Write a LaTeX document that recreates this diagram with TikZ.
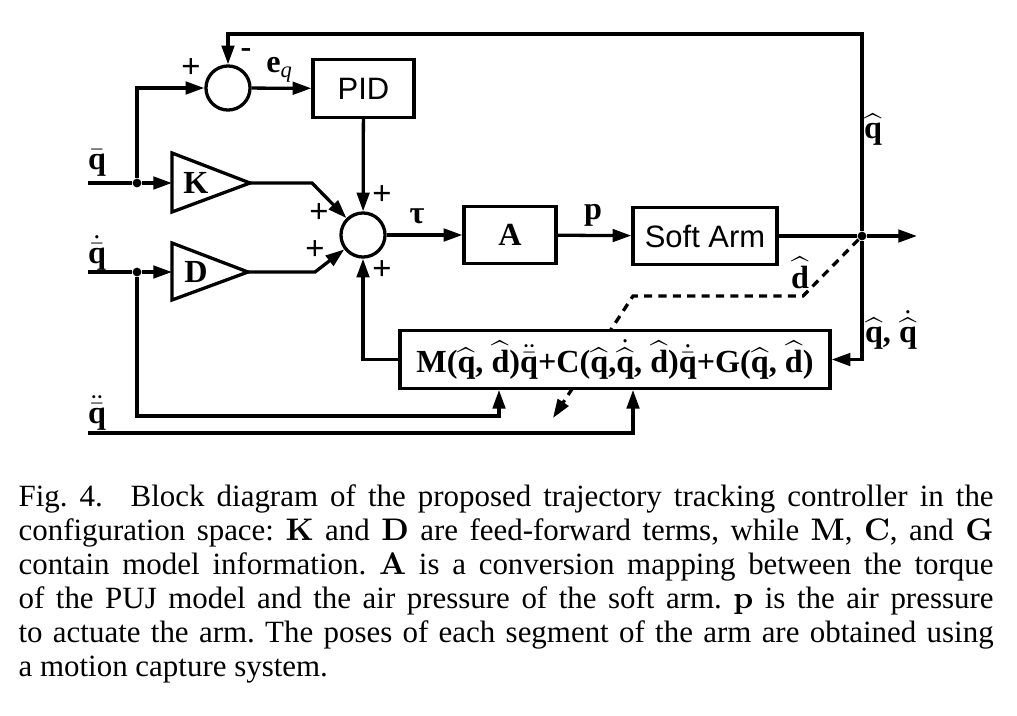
\documentclass[tikz,border=0pt]{standalone}
\usepackage{amsmath}
\usepackage[no-math]{fontspec}
\setmainfont{Liberation Serif}
\newfontfamily\armfont{Liberation Sans}
\usetikzlibrary{arrows.meta}
\newcommand{\vecq}{\mbox{q}}
\newcommand{\vecd}{\mbox{d}}

\begin{document}
\frenchspacing
\begin{tikzpicture}[
    x=0.32pt, y=-0.32pt,
    lbl/.style={draw=none, font=\fontsize{10.3}{11}\selectfont\bfseries, inner sep=0pt},
    sgn/.style={draw=none, font=\fontsize{10.5}{11}\selectfont\armfont, inner sep=0pt},
    blk/.style={draw, fill=white, line width=1.05pt, minimum height=18.4pt, inner sep=0pt,
                font=\fontsize{10.3}{11}\selectfont\bfseries},
    sansblk/.style={blk, font=\fontsize{9.9}{11}\selectfont\armfont},
    sumnode/.style={circle, draw, line width=1.05pt, minimum size=14.1pt, inner sep=0pt},
    dotnode/.style={circle, fill, inner sep=0pt, minimum size=2.8pt},
    wire/.style={line width=1.05pt},
    sarrow/.style={-{Triangle[length=6pt, width=4pt]}, line width=1.05pt},
    darrow/.style={sarrow, dash pattern=on 2.6pt off 2pt}
]
\useasboundingbox (0,0) rectangle (1017,715);
% --- Summing junctions and blocks ---
\node[sumnode] (sumA) at (228,88) {};
\node[sansblk, minimum width=32.3pt] (pid) at (363.5,88.5) {PID};
\node[sumnode] (sumB) at (363,235) {};
\node[blk, minimum width=29.4pt] (ablk) at (510,235) {A};
\node[sansblk, minimum width=46.1pt] (arm) at (705,236) {Soft Arm};
\node[dotnode] (split) at (862,236) {};
\coordinate (outend) at (917,236);
% --- Gains K and D ---
\foreach \g/\y/\yt/\yb/\xt in {K/183/153/212/250, D/272/243/300/248} {
    \draw[wire] (172,\yt) -- (\xt,\y) -- (172,\yb) -- cycle;
    \node[lbl] (gain\g) at (196,\y) {\g};
    \coordinate (in\g) at (172,\y);
    \coordinate (out\g) at (\xt,\y);
}
% --- Input points and bends ---
\node[dotnode] (dotK) at (137,183) {};
\node[dotnode] (dotD) at (137,272) {};
\coordinate (qbarin) at (88,183);
\coordinate (qdotin) at (88,272);
\coordinate (qddotin) at (88,433);
\coordinate (kbend) at (312,183);
\coordinate (dbend) at (315,272);
\coordinate (topR) at (862,34);
\coordinate (mlowA) at (499,416);
\coordinate (mlowB) at (633,433);
% --- Dashed estimate, runs under the model block ---
\coordinate (estA) at (803,296);
\coordinate (estB) at (633,296);
\coordinate (estC) at (553,418);
\draw[darrow] (split) -- (estA) -- (estB) -- (estC);
% --- Model block ---
\node[blk, minimum width=137.6pt] (mbox) at (615,359.5)
    {M($\widehat{\vecq}$, $\widehat{\vecd}$)$\ddot{\bar{\vecq}}$+C($\widehat{\vecq}$,$\dot{\widehat{\vecq}}$, $\widehat{\vecd}$)$\dot{\bar{\vecq}}$+G($\widehat{\vecq}$, $\widehat{\vecd}$)};
% --- Connections ---
\draw[sarrow] (split) -- (topR) -| (sumA);
\draw[wire] (qbarin) -- (dotK);
\draw[sarrow] (dotK) -- (inK);
\draw[sarrow] (dotK) |- (sumA);
\draw[sarrow] (sumA) -- (pid);
\draw[sarrow] (pid) -- (sumB);
\draw[sarrow] (outK) -- (kbend) -- (sumB);
\draw[wire] (qdotin) -- (dotD);
\draw[sarrow] (dotD) -- (inD);
\draw[sarrow] (outD) -- (dbend) -- (sumB);
\draw[sarrow] (sumB) -- (ablk);
\draw[sarrow] (ablk) -- (arm);
\draw[wire] (arm) -- (split);
\draw[sarrow] (split) -- (outend);
\draw[sarrow] (split) |- (mbox);
\draw[sarrow] (mbox) -| (sumB);
\draw[sarrow] (dotD) |- (mlowA) -- (mlowA |- mbox.south);
\draw[sarrow] (qddotin) -| (mlowB |- mbox.south);
% --- Signal labels ---
\node[lbl] (lqbar) at (97,163) {$\bar{\vecq}$};
\node[lbl] (lqdot) at (97,253) {$\dot{\bar{\vecq}}$};
\node[lbl] (lqddot) at (97,413) {$\ddot{\bar{\vecq}}$};
\node[lbl] (leq) at (280,70) {e\textsubscript{\mdseries\itshape q}};
\node[lbl] (ltau) at (417,216) {τ};
\node[lbl] (lp) at (593,215) {p};
\node[lbl] (lqhat) at (873,130) {$\widehat{\vecq}$};
\node[lbl] (ldhat) at (800,273) {$\widehat{\vecd}$};
\node[lbl] (lqq) at (891,330) {$\widehat{\vecq}$, $\dot{\widehat{\vecq}}$};
% --- Signs at the junctions ---
\foreach \x/\y [count=\i] in {191/68, 382/195, 319/213, 315/250, 382/270} {
    \node[sgn] (plus\i) at (\x,\y) {+};
}
\node[lbl] (minusA) at (246,53) {-};
% --- Caption ---
\node[anchor=north west, inner sep=0pt, text width=312pt, align=justify,
      font=\fontsize{9.9}{10.88}\selectfont] (caption) at (18,484)
    {Fig. 4.\hspace{0.9em}Block diagram of the proposed trajectory tracking controller in the\linebreak
     configuration space: $\mathbf{K}$ and $\mathbf{D}$ are feed-forward terms, while $\mathbf{M}$, $\mathbf{C}$, and $\mathbf{G}$\linebreak
     contain model information. $\mathbf{A}$ is a conversion mapping between the torque\linebreak
     of the PUJ model and the air pressure of the soft arm. $\mathbf{p}$ is the air pressure\linebreak
     to actuate the arm. The poses of each segment of the arm are obtained using\linebreak
     a motion capture system.};
\end{tikzpicture}
\end{document}
